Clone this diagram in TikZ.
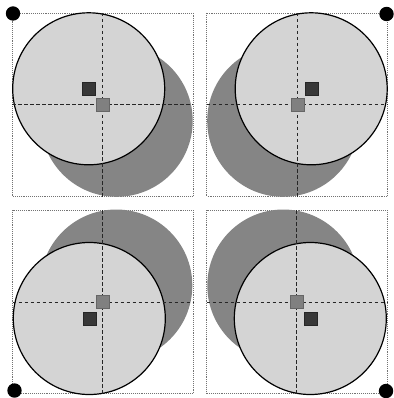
\documentclass[tikz,border=0pt]{standalone}
\usetikzlibrary{calc}
\begin{document}
\begin{tikzpicture}[x=1pt,y=-1pt,
  boxline/.style={draw=black!55, densely dotted, line width=0.9pt},
  shadowdisc/.style={fill=black!48},
  lightdisc/.style={fill=black!17, draw=black, line width=1.2pt},
  crossline/.style={draw=black!85, dashed, dash pattern=on 3.5pt off 2.5pt, line width=0.7pt},
  centsq/.style={fill=black!50, draw=black!60, line width=0.4pt},
  darksq/.style={fill=black!78, draw=black!85, line width=0.4pt},
  cornerdot/.style={fill=black}]
\useasboundingbox (0,0) rectangle (393,398);
\foreach \cx/\cy/\sx/\sy in {102.7/104.8/-14/-16, 297.2/104.8/14/-16, 102.8/302/-13.5/16.5, 296.8/302/13.5/16.5}{
  \coordinate (c) at (\cx,\cy);
  \coordinate (l) at (\cx+\sx,\cy+\sy);
  \coordinate (s) at (\cx-\sx,\cy-\sy);
  \draw[boxline] (\cx-90.3,\cy-91.8) rectangle (\cx+90.3,\cy+91.8);
  \fill[shadowdisc] (s) circle (76);
  \filldraw[lightdisc] (l) circle (76);
  \draw[crossline] (\cx-90.3,\cy) -- (\cx+90.3,\cy);
  \draw[crossline] (\cx,\cy-91.8) -- (\cx,\cy+91.8);
  \filldraw[darksq] ($(l)+(-6.5,-6.5)$) rectangle ($(l)+(6.5,6.5)$);
  \filldraw[centsq] ($(c)+(-6.5,-6.5)$) rectangle ($(c)+(6.5,6.5)$);
}
\coordinate (d1) at (13,13.5);
\coordinate (d2) at (386.5,14);
\coordinate (d3) at (14.5,390.5);
\coordinate (d4) at (386,391);
\foreach \d in {d1,d2,d3,d4} \fill[cornerdot] (\d) circle (7.2);
\end{tikzpicture}
\end{document}
